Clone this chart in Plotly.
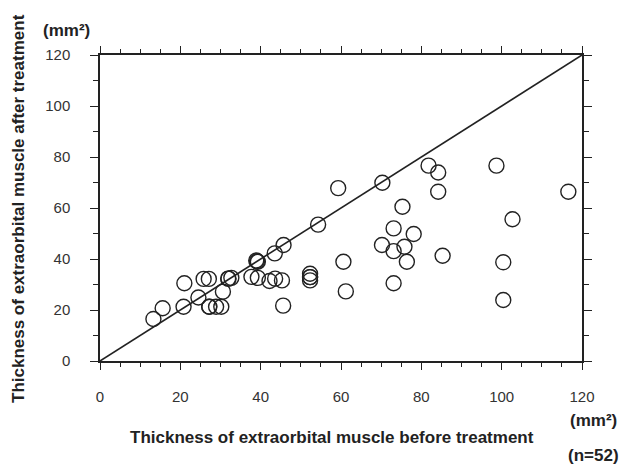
import plotly.graph_objects as go

# Data (mm^2)
before = [13.3, 15.6, 21.0, 20.8, 24.5, 25.8, 27.1, 27.2, 28.9, 30.2,
          30.6, 31.9, 32.7, 37.7, 39.3, 38.9, 39.3, 42.2, 43.6, 45.3,
          43.5, 45.7, 45.6, 52.3, 52.3, 52.3, 54.3, 59.3, 60.6, 61.2,
          70.3, 70.2, 73.1, 73.1, 73.1, 75.3, 75.8, 76.4, 78.1, 81.8,
          84.2, 84.2, 85.3, 98.7, 100.4, 100.4, 102.7, 116.6,
          32.0, 52.3, 39.1, 27.2]
after = [16.5, 20.7, 30.5, 21.3, 24.9, 32.2, 32.2, 21.3, 21.3, 21.3,
         27.2, 32.3, 32.6, 33.0, 32.6, 39.4, 38.9, 31.4, 32.3, 31.6,
         42.2, 45.5, 21.7, 34.2, 32.9, 31.6, 53.5, 67.8, 38.9, 27.3,
         69.9, 45.5, 52.0, 43.1, 30.5, 60.5, 44.8, 38.9, 49.8, 76.6,
         73.9, 66.4, 41.3, 76.6, 38.7, 23.9, 55.6, 66.4,
         32.3, 32.9, 39.1, 21.3]
identity = [0, 120]
tick_vals = [0, 20, 40, 60, 80, 100, 120]
tick_text = ["0", "20", "40", "60", "80", "100", "120"]

W, H = 621, 466
L, R, T, B = 100, 39, 55, 105
PW, PH = W - L - R, H - T - B
FONT = "Liberation Sans, Arial, sans-serif"
INK = "#222222"


def px(xp):
    return (xp - L) / PW


def py(yp):
    return (H - B - yp) / PH


fig = go.Figure()
fig.add_trace(go.Scatter(x=identity, y=identity, mode="lines",
                         line=dict(color=INK, width=1.6), hoverinfo="skip"))
fig.add_trace(go.Scatter(x=before, y=after, mode="markers",
                         marker=dict(symbol="circle-open", size=15,
                                     color=INK, line=dict(width=1.4, color=INK)),
                         cliponaxis=False))

axis_common = dict(showgrid=False, zeroline=False, showline=True,
                   linecolor=INK, linewidth=1.5, mirror="ticks",
                   ticks="outside", tickcolor=INK, tickwidth=1.3,
                   tickfont=dict(family=FONT, size=15, color="#333333"),
                   range=[0, 120], tickmode="array",
                   tickvals=tick_vals, ticktext=tick_text)

fig.update_xaxes(**axis_common, ticklen=7, ticklabelstandoff=14,
                 minor=dict(dtick=5, ticklen=4, tickcolor=INK, tickwidth=1.2,
                            ticks="outside", showgrid=False))
fig.update_yaxes(**axis_common, ticklen=8, ticklabelstandoff=17,
                 minor=dict(dtick=10, ticklen=5, tickcolor=INK, tickwidth=1.2,
                            ticks="outside", showgrid=False))

bold = dict(family=FONT, size=17, color=INK)
ann = [
    dict(text="<b>(mm²)</b>", x=px(66), y=py(30)),
    dict(text="<b>Thickness of extraorbital muscle before treatment</b>",
         x=px(332), y=py(437)),
    dict(text="<b>(mm²)</b>", x=px(593), y=py(420)),
    dict(text="<b>(n=52)</b>", x=px(593), y=py(455)),
    dict(text="<b>Thickness of extraorbital muscle after treatment</b>",
         x=px(18), y=py(209), textangle=-90),
]
for a in ann:
    fig.add_annotation(xref="paper", yref="paper", showarrow=False,
                       xanchor="center", yanchor="middle", font=bold, **a)

fig.update_layout(width=W, height=H, margin=dict(l=L, r=R, t=T, b=B),
                  plot_bgcolor="white", paper_bgcolor="white",
                  showlegend=False, font=dict(family=FONT))

fig.write_html("out.html",
               config={"displayModeBar": False},
               post_script="document.body.style.margin='0';"
                           "document.body.style.overflow='hidden';")
